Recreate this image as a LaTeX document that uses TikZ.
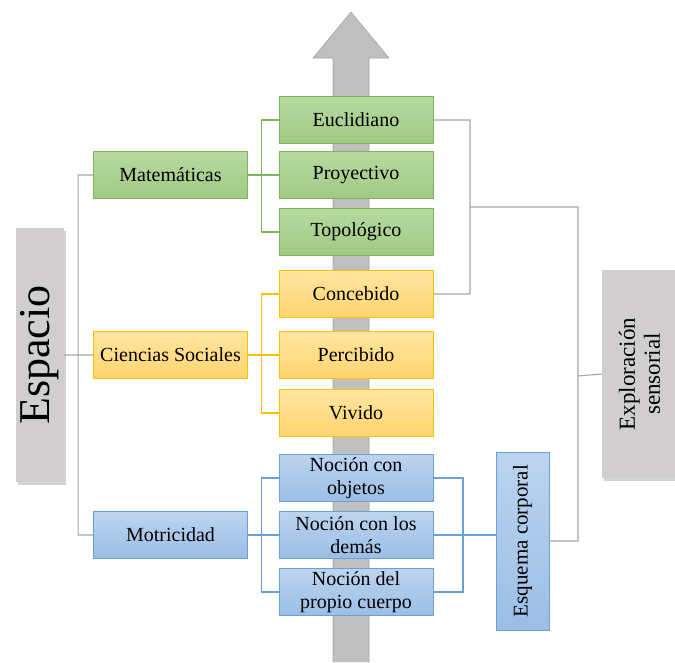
\documentclass[tikz,border=0pt]{standalone}
\usepackage{fontspec}
\setmainfont{Liberation Serif}
\usetikzlibrary{shapes,arrows,shadows}

\definecolor{verdeB}{HTML}{7DB559}
\definecolor{verdeA}{HTML}{B7D9A0}
\definecolor{verdeC}{HTML}{A0CA84}
\definecolor{naranjaB}{HTML}{FFC000}
\definecolor{naranjaA}{HTML}{FFE6A0}
\definecolor{naranjaC}{HTML}{FFD46E}
\definecolor{azulB}{HTML}{6A9FD8}
\definecolor{azulA}{HTML}{BCD4EF}
\definecolor{azulC}{HTML}{9BBEE6}
\definecolor{grisF}{HTML}{D0CECE}
\definecolor{grisL}{HTML}{A6A6A6}
\definecolor{flecha}{HTML}{BFBFBF}

\begin{document}
\begin{tikzpicture}[x=1pt, y=-1pt,
    caja/.style={draw, line width=0.8pt, minimum width=154pt, minimum height=47pt,
      inner sep=1pt, align=center, font=\fontsize{20}{23}\selectfont},
    mate/.style={caja, draw=verdeB, top color=verdeA, bottom color=verdeC},
    soci/.style={caja, draw=naranjaB, top color=naranjaA, bottom color=naranjaC},
    motr/.style={caja, draw=azulB, top color=azulA, bottom color=azulC},
    grande/.style={draw=none, fill=grisF, rotate=90, align=center,
      drop shadow={shadow xshift=2pt, shadow yshift=-3pt, opacity=0.35}},
    lgris/.style={draw=grisL, line width=1.1pt},
    lverde/.style={draw=verdeB, line width=1.1pt},
    lnaranja/.style={draw=naranjaB, line width=1.1pt},
    lazul/.style={draw=azulB, line width=1.1pt}]
    \useasboundingbox (0,0) rectangle (675,662);

    % flecha del fondo
    \draw[fill=flecha, draw=grisL, line width=0.6pt]
      (333,662) -- (333,58) -- (313,58) -- (351,12) -- (389,58) -- (369,58) -- (369,662);

    \node[grande, minimum width=254pt, minimum height=48pt,
      font=\fontsize{44}{48}\selectfont] (espacio) at (40,355) {Espacio};
    \node[grande, minimum width=208pt, minimum height=75pt,
      font=\fontsize{23}{25}\selectfont] (explor) at (639.5,374) {Exploración\\sensorial};

    \node[mate] (mat) at (170.5,175) {Matemáticas};
    \node[mate] (eucl) at (356,120) {Euclidiano};
    \node[mate] (proy) at (356,175) {Proyectivo};
    \node[mate] (topo) at (356,232) {Topológico};

    \node[soci] (cien) at (170.5,355) {Ciencias Sociales};
    \node[soci] (conc) at (356,294) {Concebido};
    \node[soci] (perc) at (356,355) {Percibido};
    \node[soci] (vivi) at (356,413) {Vivido};

    \node[motr] (motri) at (170.5,535) {Motricidad};
    \node[motr] (nobj) at (356,478) {Noción con\\objetos};
    \node[motr] (ndem) at (356,535) {Noción con los\\demás};
    \node[motr] (nprop) at (356,592) {Noción del\\propio cuerpo};
    \node[motr, rotate=90, minimum width=178pt, minimum height=53pt,
      font=\fontsize{21}{23}\selectfont] (esq) at (522.5,541) {Esquema corporal};

    \coordinate (b1) at (470,207);
    \coordinate (b2) at (578,376);
    \coordinate (a1) at (463,535);

    \path[lgris] (espacio.south) -- (cien.west)
                 (mat.west) -- ++(-15,0) |- (motri.west)
                 (eucl.east) -| (b1) |- (conc.east)
                 (b1) -| (b2) |- (esq.south)
                 (b2) -- (explor.north);
    \path[lverde] (eucl.west) -- ++(-17,0) |- (topo.west)
                  (mat.east) -- (proy.west);
    \path[lnaranja] (conc.west) -- ++(-17,0) |- (vivi.west)
                    (cien.east) -- (perc.west);
    \path[lazul] (nobj.west) -- ++(-17,0) |- (nprop.west)
                 (motri.east) -- (ndem.west)
                 (nobj.east) -| (a1) |- (nprop.east)
                 (ndem.east) -- (ndem.east -| esq.north);
\end{tikzpicture}
\end{document}
